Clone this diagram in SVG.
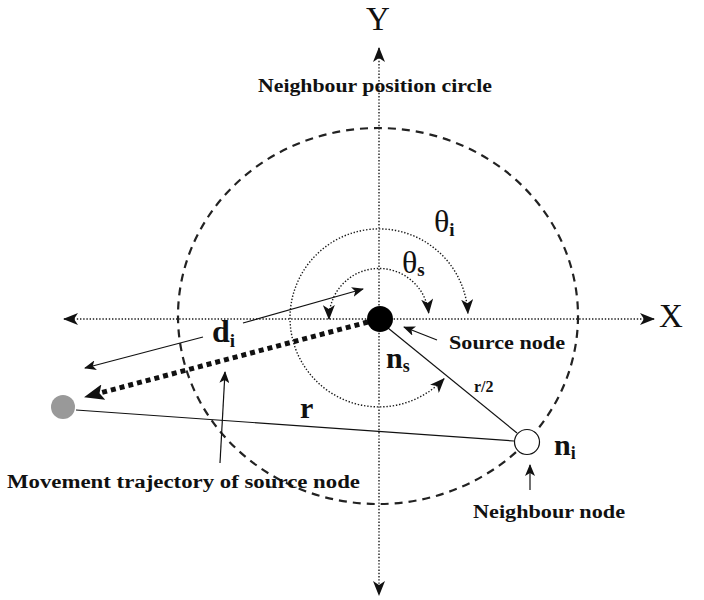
<svg xmlns="http://www.w3.org/2000/svg" width="704" height="600" viewBox="0 0 704 600">
<style>
.lbl{font-family:"Liberation Serif","Times New Roman",serif;font-weight:bold;fill:#111}
.ax{font-family:"Liberation Serif","Times New Roman",serif;fill:#111}
.dot{fill:none;stroke:#1a1a1a;stroke-width:1.4;stroke-dasharray:1.4 1.8}
.thin{fill:none;stroke:#111;stroke-width:1.2}
</style>
<defs>
<marker id="ah" viewBox="0 0 15 12" refX="14" refY="6" markerWidth="15" markerHeight="12" markerUnits="userSpaceOnUse" orient="auto-start-reverse">
<path d="M0,0 L15,6 L0,12 L4,6 Z" fill="#111"/>
</marker>
<marker id="sa" viewBox="0 0 12 10" refX="11" refY="5" markerWidth="12" markerHeight="10" markerUnits="userSpaceOnUse" orient="auto">
<path d="M0,0 L12,5 L0,10 L3,5 Z" fill="#111"/>
</marker>
<marker id="big" viewBox="0 0 20 16" refX="19" refY="8" markerWidth="20" markerHeight="16" markerUnits="userSpaceOnUse" orient="auto">
<path d="M0,0 L20,8 L0,16 L4,8 Z" fill="#111"/>
</marker>
</defs>
<rect width="704" height="600" fill="#fff"/>

<g id="axes">
<line class="dot" x1="64" y1="319" x2="654" y2="319" marker-start="url(#ah)" marker-end="url(#ah)"/>
<line class="dot" x1="379" y1="48" x2="379" y2="595" marker-start="url(#ah)" marker-end="url(#ah)"/>
<text class="ax" x="378" y="30" font-size="33" text-anchor="middle">Y</text>
<text class="ax" x="659" y="327" font-size="33">X</text>
</g>

<g id="neighbour-circle">
<ellipse cx="378" cy="316" rx="200" ry="188" fill="none" stroke="#222" stroke-width="2.2" stroke-dasharray="8 6"/>
<text class="lbl" x="258" y="92" font-size="18" textLength="234" lengthAdjust="spacingAndGlyphs">Neighbour position circle</text>
</g>

<g id="connectors">
<path class="dot" d="M444,378.7 A89,89 0 1 1 467.9,313.3" marker-start="url(#ah)" marker-end="url(#ah)"/>
<path class="dot" d="M329,319 A50,50 0 0 1 428.7,313" marker-start="url(#ah)" marker-end="url(#ah)"/>
<line class="thin" x1="388" y1="328" x2="517" y2="433" stroke-width="1"/>
<line class="thin" x1="76" y1="410" x2="514" y2="441" stroke-width="1"/>
<line x1="368" y1="322" x2="100" y2="393" stroke="#111" stroke-width="5" stroke-dasharray="5 4"/>
<line x1="104" y1="392" x2="85" y2="397" stroke="none" marker-end="url(#big)"/>
<line class="thin" x1="243" y1="323" x2="363" y2="289" marker-end="url(#sa)"/>
<line class="thin" x1="203" y1="337" x2="85" y2="368" marker-end="url(#sa)"/>
<line class="thin" x1="220" y1="463" x2="225" y2="372" marker-end="url(#sa)"/>
<line class="thin" x1="437" y1="340" x2="404" y2="327" marker-end="url(#sa)"/>
<line class="thin" x1="530" y1="490" x2="530" y2="465" marker-end="url(#sa)"/>
</g>

<g id="source-node">
<circle cx="380" cy="319" r="13" fill="#000"/>
<text class="lbl" x="449" y="349" font-size="18" textLength="116" lengthAdjust="spacingAndGlyphs">Source node</text>
<text class="lbl" x="386" y="368" font-size="30">n<tspan font-size="18" dy="4">s</tspan></text>
</g>

<g id="neighbour-node">
<circle cx="527" cy="442" r="12.5" fill="#fff" stroke="#111" stroke-width="1.2"/>
<text class="lbl" x="554" y="455" font-size="30">n<tspan font-size="18" dy="4">i</tspan></text>
<text class="lbl" x="473" y="518" font-size="18" textLength="152" lengthAdjust="spacingAndGlyphs">Neighbour node</text>
</g>

<g id="moved-node">
<circle cx="63" cy="407" r="12" fill="#999"/>
<text class="lbl" x="7" y="488" font-size="18" textLength="353" lengthAdjust="spacingAndGlyphs">Movement trajectory of source node</text>
</g>

<g id="labels">
<text class="lbl" x="212" y="342" font-size="32">d<tspan font-size="19" dy="5">i</tspan></text>
<text class="lbl" x="300" y="418" font-size="30">r</text>
<text class="lbl" x="474" y="392" font-size="16">r/2</text>
<text class="ax" x="434" y="232" font-size="32">θ<tspan class="lbl" font-size="19" dy="4">i</tspan></text>
<text class="ax" x="402" y="273" font-size="32">θ<tspan class="lbl" font-size="19" dy="3">s</tspan></text>
</g>
</svg>
